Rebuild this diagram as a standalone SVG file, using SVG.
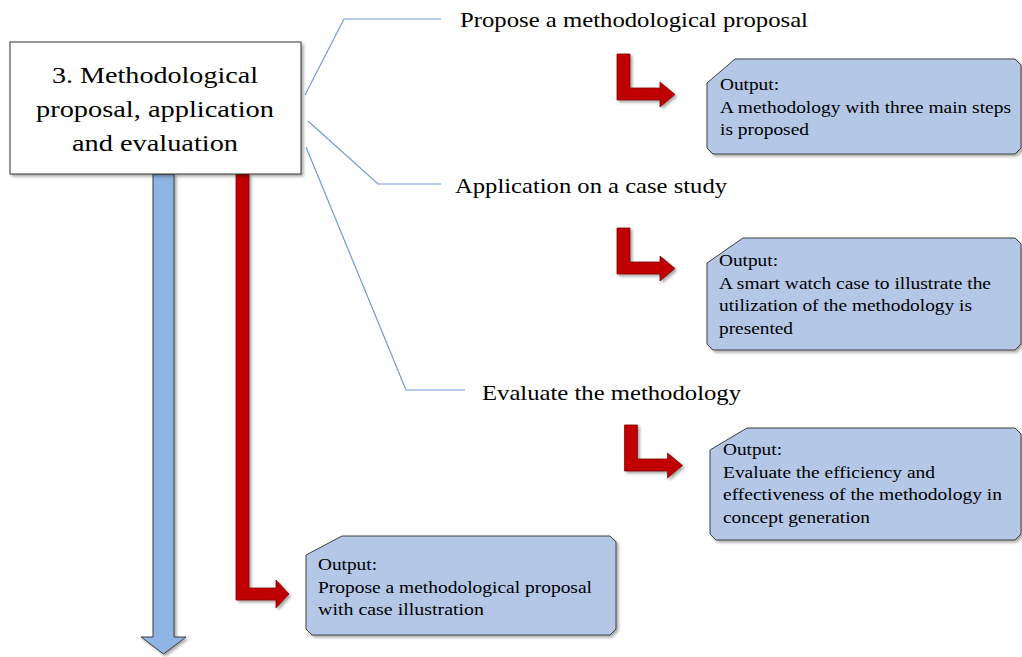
<svg xmlns="http://www.w3.org/2000/svg" width="1022" height="657" viewBox="0 0 1022 657">
<style>
  .t { font-family: 'Liberation Serif', 'Times New Roman', Tinos, serif; fill: #000; }
  .main { font-size: 24px; text-anchor: middle; }
  .head { font-size: 22px; }
  .out { font-size: 16.5px; }
  .box { fill: #B4C7E7; stroke: #404040; stroke-width: 1; filter: url(#sh); }
  .redarr { fill: #C00000; stroke: #7F1010; stroke-width: 0.8; filter: url(#sh); }
  .bluearr { fill: #8EB4E3; stroke: #3F3F3F; stroke-width: 1; filter: url(#sh); }
  .conn { fill: none; stroke: #6F9BD6; stroke-width: 1.2; }
</style>
<defs>
  <filter id="sh" x="-10%" y="-10%" width="130%" height="130%">
    <feDropShadow dx="2" dy="2" stdDeviation="1.8" flood-color="#000" flood-opacity="0.35"/>
  </filter>
  <path id="smallL" d="M0,0 H13 V34 H43 V28 L58,40.5 L43,53 V46 H0 Z"/>
</defs>
<rect width="1022" height="657" fill="#fff"/>

<g id="connectors">
  <polyline class="conn" points="305,95 344,19 441,19"/>
  <polyline class="conn" points="308,121 378,184 441,184"/>
  <polyline class="conn" points="306,147 406,390 465,390"/>
</g>

<g id="flow-arrows">
  <path class="bluearr" d="M153,174 H174 V637 H186 L163.5,654 L141,637 H153 Z"/>
  <path class="redarr" d="M236,174 H249 V588 H276 V580 L289,594 L276,608 V600 H236 Z"/>
  <use href="#smallL" class="redarr" transform="translate(617,54)"/>
  <use href="#smallL" class="redarr" transform="translate(617,228)"/>
  <use href="#smallL" class="redarr" transform="translate(624.5,425)"/>
</g>

<g font-family="Liberation Serif, Times New Roman, serif">
<g id="main-node">
  <rect x="10" y="42" width="291" height="132" fill="#fff" stroke="#333" stroke-width="1" filter="url(#sh)"/>
  <text class="t main" x="155" y="83" textLength="206" lengthAdjust="spacingAndGlyphs">3. Methodological</text>
  <text class="t main" x="155" y="117" textLength="238" lengthAdjust="spacingAndGlyphs">proposal, application</text>
  <text class="t main" x="155" y="151" textLength="166" lengthAdjust="spacingAndGlyphs">and evaluation</text>
</g>

<g id="step1">
  <text class="t head" x="460" y="27" textLength="348" lengthAdjust="spacingAndGlyphs">Propose a methodological proposal</text>
</g>
<g id="step2">
  <text class="t head" x="455" y="193" textLength="272" lengthAdjust="spacingAndGlyphs">Application on a case study</text>
</g>
<g id="step3">
  <text class="t head" x="482" y="400" textLength="259" lengthAdjust="spacingAndGlyphs">Evaluate the methodology</text>
</g>

<g id="output1">
  <path class="box" d="M707,83 L735,59 L1015,59 L1021,65 L1021,148 L1015,154 L713,154 L707,148 Z"/>
  <text class="t out" x="720" y="90" textLength="59" lengthAdjust="spacingAndGlyphs">Output:</text>
  <text class="t out" x="720" y="112.5" textLength="291" lengthAdjust="spacingAndGlyphs">A methodology with three main steps</text>
  <text class="t out" x="720" y="135" textLength="89" lengthAdjust="spacingAndGlyphs">is proposed</text>
</g>

<g id="output2">
  <path class="box" d="M707,263 L743,238 L1015,238 L1021,244 L1021,344 L1015,350 L713,350 L707,344 Z"/>
  <text class="t out" x="719" y="266" textLength="59" lengthAdjust="spacingAndGlyphs">Output:</text>
  <text class="t out" x="719" y="288.5" textLength="272" lengthAdjust="spacingAndGlyphs">A smart watch case to illustrate the</text>
  <text class="t out" x="719" y="311" textLength="253" lengthAdjust="spacingAndGlyphs">utilization of the methodology is</text>
  <text class="t out" x="719" y="333.5" textLength="74" lengthAdjust="spacingAndGlyphs">presented</text>
</g>

<g id="output3">
  <path class="box" d="M710,450 L747,428 L1015,428 L1021,434 L1021,534 L1015,540 L716,540 L710,534 Z"/>
  <text class="t out" x="723" y="455" textLength="59" lengthAdjust="spacingAndGlyphs">Output:</text>
  <text class="t out" x="723" y="477.5" textLength="212" lengthAdjust="spacingAndGlyphs">Evaluate the efficiency and</text>
  <text class="t out" x="723" y="500" textLength="279" lengthAdjust="spacingAndGlyphs">effectiveness of the methodology in</text>
  <text class="t out" x="723" y="522.5" textLength="147" lengthAdjust="spacingAndGlyphs">concept generation</text>
</g>

<g id="output4">
  <path class="box" d="M306,555 L342,536 L610,536 L616,542 L616,629 L610,635 L312,635 L306,629 Z"/>
  <text class="t out" x="318" y="570" textLength="59" lengthAdjust="spacingAndGlyphs">Output:</text>
  <text class="t out" x="318" y="592.5" textLength="274" lengthAdjust="spacingAndGlyphs">Propose a methodological proposal</text>
  <text class="t out" x="318" y="615" textLength="166" lengthAdjust="spacingAndGlyphs">with case illustration</text>
</g>
</g>
</svg>
